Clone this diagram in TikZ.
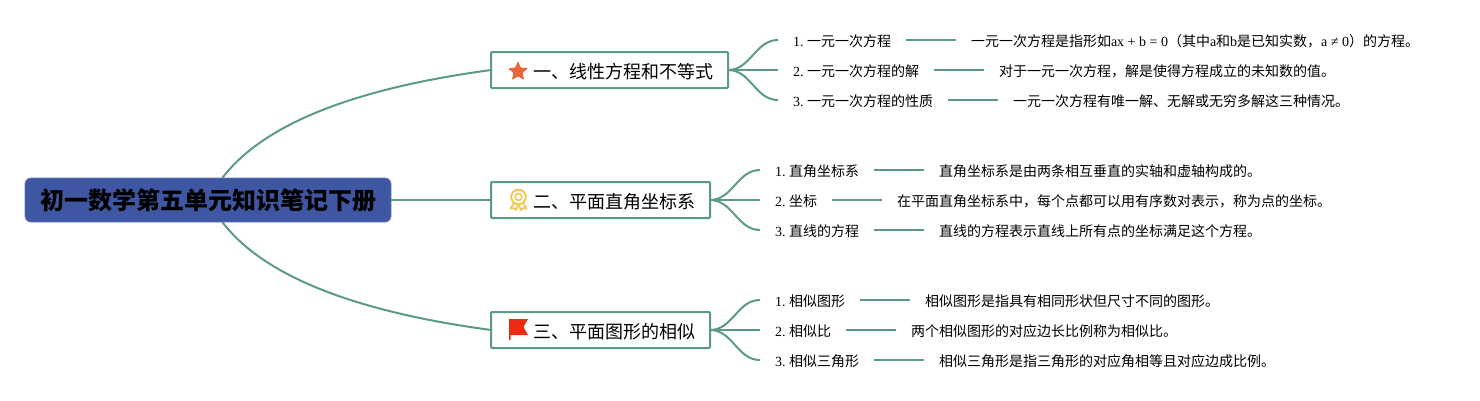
\documentclass[tikz,border=0pt]{standalone}
\usepackage{fontspec}
\usepackage{xcolor}
\usetikzlibrary{positioning,shapes.geometric}
\setmainfont{Noto Sans CJK SC}
\newfontfamily\latinfont{Liberation Serif}
\newcommand{\lat}[1]{{\latinfont #1}}
\newcommand{\itemno}[1]{\lat{#1.}\hspace{3.5pt}}
\definecolor{linkgreen}{HTML}{5B9A85}
\definecolor{rootblue}{HTML}{3F56A2}
\definecolor{staror}{HTML}{E5673A}
\definecolor{medalyl}{HTML}{F6C445}
\definecolor{flagred}{HTML}{EF2A12}
\tikzset{
  link/.style={draw=linkgreen,line width=2pt},
  rootbox/.style={fill=rootblue,draw=rootblue!80!white,line width=0.8pt,rounded corners=6pt,minimum width=366pt,minimum height=44pt,inner sep=0pt,outer sep=0pt,font=\fontsize{24pt}{28pt}\selectfont\bfseries,text=black},
  branch/.style={draw=linkgreen,line width=2pt,rounded corners=1pt,fill=white,minimum height=36pt,inner xsep=15pt,inner ysep=0pt,outer sep=0pt,text height=20pt,text depth=3pt,font=\fontsize{18pt}{22pt}\selectfont,anchor=west},
  leaf/.style={inner xsep=15pt,inner ysep=0pt,outer sep=0pt,text height=15pt,text depth=3pt,font=\fontsize{14pt}{16pt}\selectfont,text=black},
  icon/.style={inner sep=0pt,outer sep=0pt}
}
\begin{document}
\begin{tikzpicture}[x=1pt,y=-1pt]
\useasboundingbox (0,0) rectangle (1480,400);
\node[rootbox] (root) at (208,200) {初一数学第五单元知识笔记下册};
\node[branch] (bone) at (491,70) {\hspace{27pt}一、线性方程和不等式};
\node[branch] (btwo) at (491,200) {\hspace{27pt}二、平面直角坐标系};
\node[branch] (bthree) at (491,330) {\hspace{27pt}三、平面图形的相似};
% first group
\node[leaf,anchor=west] (a1) at (778,40) {\itemno{1}一元一次方程};
\node[leaf,anchor=west] (a2) at (778,70) {\itemno{2}一元一次方程的解};
\node[leaf,anchor=west] (a3) at (778,100) {\itemno{3}一元一次方程的性质};
\node[leaf,right=50pt of a1] (a1d) {一元一次方程是指形如\lat{ax + b = 0}（其中\lat{a}和\lat{b}是已知实数，\lat{a ≠ 0}）的方程。};
\node[leaf,right=50pt of a2] (a2d) {对于一元一次方程，解是使得方程成立的未知数的值。};
\node[leaf,right=50pt of a3] (a3d) {一元一次方程有唯一解、无解或无穷多解这三种情况。};
% second group
\node[leaf,anchor=west] (c1) at (760,170) {\itemno{1}直角坐标系};
\node[leaf,anchor=west] (c2) at (760,200) {\itemno{2}坐标};
\node[leaf,anchor=west] (c3) at (760,230) {\itemno{3}直线的方程};
\node[leaf,right=50pt of c1] (c1d) {直角坐标系是由两条相互垂直的实轴和虚轴构成的。};
\node[leaf,right=50pt of c2] (c2d) {在平面直角坐标系中，每个点都可以用有序数对表示，称为点的坐标。};
\node[leaf,right=50pt of c3] (c3d) {直线的方程表示直线上所有点的坐标满足这个方程。};
% third group
\node[leaf,anchor=west] (e1) at (760,300) {\itemno{1}相似图形};
\node[leaf,anchor=west] (e2) at (760,330) {\itemno{2}相似比};
\node[leaf,anchor=west] (e3) at (760,360) {\itemno{3}相似三角形};
\node[leaf,right=50pt of e1] (e1d) {相似图形是指具有相同形状但尺寸不同的图形。};
\node[leaf,right=50pt of e2] (e2d) {两个相似图形的对应边长比例称为相似比。};
\node[leaf,right=50pt of e3] (e3d) {相似三角形是指三角形的对应角相等且对应边成比例。};
% root links
\draw[link] (root.57.5) .. controls +(48,-63) and +(-111,15) .. (bone.west);
\draw[link] (root.east) -- (btwo.west);
\draw[link] (root.-57.5) .. controls +(48,63) and +(-111,-15) .. (bthree.west);
% branch links
\draw[link] (bone.east) to[out=0,in=180] (a1.west);
\draw[link] (bone.east) -- (a2.west);
\draw[link] (bone.east) to[out=0,in=180] (a3.west);
\draw[link] (btwo.east) to[out=0,in=180] (c1.west);
\draw[link] (btwo.east) -- (c2.west);
\draw[link] (btwo.east) to[out=0,in=180] (c3.west);
\draw[link] (bthree.east) to[out=0,in=180] (e1.west);
\draw[link] (bthree.east) -- (e2.west);
\draw[link] (bthree.east) to[out=0,in=180] (e3.west);
% leaf links
\draw[link] (a1) -- (a1d);
\draw[link] (a2) -- (a2d);
\draw[link] (a3) -- (a3d);
\draw[link] (c1) -- (c1d);
\draw[link] (c2) -- (c2d);
\draw[link] (c3) -- (c3d);
\draw[link] (e1) -- (e1d);
\draw[link] (e2) -- (e2d);
\draw[link] (e3) -- (e3d);
% icons
\node[icon,star,star points=5,star point ratio=2.2,fill=staror,minimum size=21pt,rounded corners=1pt] (istar) at (518,71.5) {};
\draw[medalyl,line width=1.8pt] (518.5,197) circle (7.3);
\draw[medalyl,line width=1.5pt] (518.5,197) circle (3.4);
\draw[medalyl,line width=1.6pt,line join=round] (513.5,203.5) -- (510.5,208.5) -- (514,208) -- (516,210) -- (518,205.5);
\draw[medalyl,line width=1.6pt,line join=round] (523.5,203.5) -- (526.5,208.5) -- (523,208) -- (521,210) -- (519,205.5);
\fill[flagred] (509,319) -- (528,319) -- (523.5,327) -- (528,335) -- (510.5,335) -- (510.5,340) -- (509,340) -- cycle;
\end{tikzpicture}
\end{document}
